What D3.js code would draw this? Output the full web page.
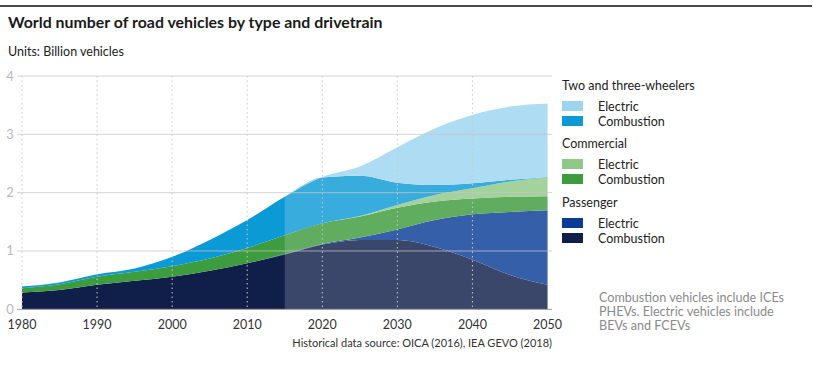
<!DOCTYPE html>
<html>
<head>
<meta charset="utf-8">
<script src="https://cdn.jsdelivr.net/npm/d3@7"></script>
<style>
  body { margin: 0; background: #fff; }
  svg { font-family: Lato, "Open Sans", sans-serif; }
</style>
</head>
<body>
<svg id="chart" width="814" height="386"></svg>
<script>
// years on the x axis (5-year steps, history up to 2015, projection after)
const years = [1980, 1985, 1990, 1995, 2000, 2005, 2010, 2015, 2020, 2025, 2030, 2035, 2040, 2045, 2050];

// billion vehicles per series
const passengerCombustion = [0.29, 0.33, 0.42, 0.49, 0.56, 0.66, 0.79, 0.94, 1.11, 1.19, 1.19, 1.07, 0.85, 0.59, 0.42];
const passengerElectric   = [0, 0, 0, 0, 0, 0, 0, 0.01, 0.01, 0.04, 0.18, 0.46, 0.78, 1.08, 1.28];
const commercialCombustion = [0.07, 0.10, 0.14, 0.155, 0.18, 0.21, 0.26, 0.32, 0.355, 0.36, 0.37, 0.32, 0.27, 0.26, 0.24];
const commercialElectric   = [0, 0, 0, 0, 0, 0, 0, 0, 0, 0.01, 0.05, 0.11, 0.175, 0.26, 0.32];
const twoWheelCombustion = [0.03, 0.03, 0.04, 0.055, 0.16, 0.32, 0.48, 0.66, 0.785, 0.69, 0.38, 0.17, 0.085, 0.03, 0.01];
const twoWheelElectric   = [0, 0, 0, 0, 0, 0, 0, 0, 0.01, 0.16, 0.61, 0.97, 1.17, 1.255, 1.26];

const yTicks = [0, 1, 2, 3, 4];
const xTicks = [1980, 1990, 2000, 2010, 2020, 2030, 2040, 2050];
const projectionStart = 2015;

const keys = ["pc", "pe", "cc", "ce", "tc", "te"];
const colours = {
  pc: "#0f1f4a", pe: "#0a3c96",
  cc: "#3d9c3d", ce: "#8fc888",
  tc: "#0b9ad6", te: "#9dd5ef"
};

const legendGroups = [
  { title: "Two and three-wheelers", items: [["Electric", "te"], ["Combustion", "tc"]] },
  { title: "Commercial", items: [["Electric", "ce"], ["Combustion", "cc"]] },
  { title: "Passenger", items: [["Electric", "pe"], ["Combustion", "pc"]] }
];

const rows = years.map(function(yr, i) {
  return {
    year: yr,
    pc: passengerCombustion[i], pe: passengerElectric[i],
    cc: commercialCombustion[i], ce: commercialElectric[i],
    tc: twoWheelCombustion[i], te: twoWheelElectric[i]
  };
});

const svg = d3.select("#chart");

const x = d3.scaleLinear().domain([1980, 2050]).range([22, 547.5]);
const y = d3.scaleLinear().domain([0, 4]).range([309.3, 76]);

// rule above the title
svg.append("line")
    .attr("x1", 0).attr("x2", 812)
    .attr("y1", 6).attr("y2", 6)
    .attr("stroke", "#4a4a4a")
    .attr("stroke-width", 2);

svg.append("text")
    .attr("x", 8).attr("y", 27.5)
    .attr("font-size", 15.9)
    .attr("font-weight", "bold")
    .attr("fill", "#1a1a1a")
    .text("World number of road vehicles by type and drivetrain");

svg.append("text")
    .attr("x", 8).attr("y", 56)
    .attr("font-size", 12.5)
    .attr("fill", "#222")
    .text("Units: Billion vehicles");

// stacked areas
const series = d3.stack().keys(keys)(rows);

const area = d3.area()
    .x(function(d) { return x(d.data.year); })
    .y0(function(d) { return y(d[0]); })
    .y1(function(d) { return y(d[1]); })
    .curve(d3.curveMonotoneX);

svg.append("g")
    .selectAll("path")
    .data(series)
    .enter()
    .append("path")
    .attr("d", area)
    .attr("fill", function(d) { return colours[d.key]; });

// lighten the projection period
svg.append("rect")
    .attr("x", x(projectionStart))
    .attr("y", y(4))
    .attr("width", x(2050) - x(projectionStart))
    .attr("height", y(0) - y(4))
    .attr("fill", "#fff")
    .attr("opacity", 0.18);

// horizontal grid + y labels
const yAxis = svg.append("g");
yAxis.selectAll("line")
    .data(yTicks)
    .enter()
    .append("line")
    .attr("x1", 17).attr("x2", 552)
    .attr("y1", function(d) { return y(d); })
    .attr("y2", function(d) { return y(d); })
    .attr("stroke", function(d) { return d === 0 ? "#9a9a9a" : "#c6c6c6"; })
    .attr("stroke-opacity", function(d) { return d === 0 ? 1 : 0.75; })
    .attr("stroke-width", 1);

yAxis.selectAll("text")
    .data(yTicks)
    .enter()
    .append("text")
    .attr("x", 10)
    .attr("y", function(d) { return y(d) + 4.5; })
    .attr("text-anchor", "middle")
    .attr("font-size", 13)
    .attr("fill", "#b8b8b8")
    .text(function(d) { return d; });

// dotted verticals
svg.append("g")
    .selectAll("line")
    .data(xTicks.filter(function(d) { return d < 2050; }))
    .enter()
    .append("line")
    .attr("x1", function(d) { return x(d); })
    .attr("x2", function(d) { return x(d); })
    .attr("y1", y(4)).attr("y2", y(0))
    .attr("stroke", "#c9c9c9")
    .attr("stroke-width", 1)
    .attr("stroke-dasharray", "1.5,3");

// x labels
svg.append("g")
    .selectAll("text")
    .data(xTicks)
    .enter()
    .append("text")
    .attr("x", function(d) { return x(d); })
    .attr("y", 329)
    .attr("text-anchor", "middle")
    .attr("font-size", 12.5)
    .attr("fill", "#333")
    .text(function(d) { return d; });

svg.append("text")
    .attr("x", 552).attr("y", 347)
    .attr("text-anchor", "end")
    .attr("font-size", 11)
    .attr("fill", "#333")
    .text("Historical data source: OICA (2016), IEA GEVO (2018)");

// legend
const legend = svg.append("g").attr("transform", "translate(562, 0)");
const groupTop = [86, 144, 203];
legendGroups.forEach(function(g, gi) {
  const top = groupTop[gi];
  legend.append("text")
      .attr("x", 0).attr("y", top + 4)
      .attr("font-size", 12.5)
      .attr("fill", "#222")
      .text(g.title);
  g.items.forEach(function(it, ii) {
    const cy = top + 20 + ii * 15;
    legend.append("rect")
        .attr("x", 0).attr("y", cy - 5)
        .attr("width", 21).attr("height", 10)
        .attr("fill", colours[it[1]]);
    legend.append("text")
        .attr("x", 36).attr("y", cy + 4.5)
        .attr("font-size", 12.5)
        .attr("fill", "#222")
        .text(it[0]);
  });
});

// footnote
const note = ["Combustion vehicles include ICEs", "PHEVs. Electric vehicles include", "BEVs and FCEVs"];
svg.append("g")
    .selectAll("text")
    .data(note)
    .enter()
    .append("text")
    .attr("x", 599)
    .attr("y", function(d, i) { return 301.5 + i * 14.4; })
    .attr("font-size", 12.6)
    .attr("fill", "#8a8a8a")
    .text(function(d) { return d; });
</script>
</body>
</html>
